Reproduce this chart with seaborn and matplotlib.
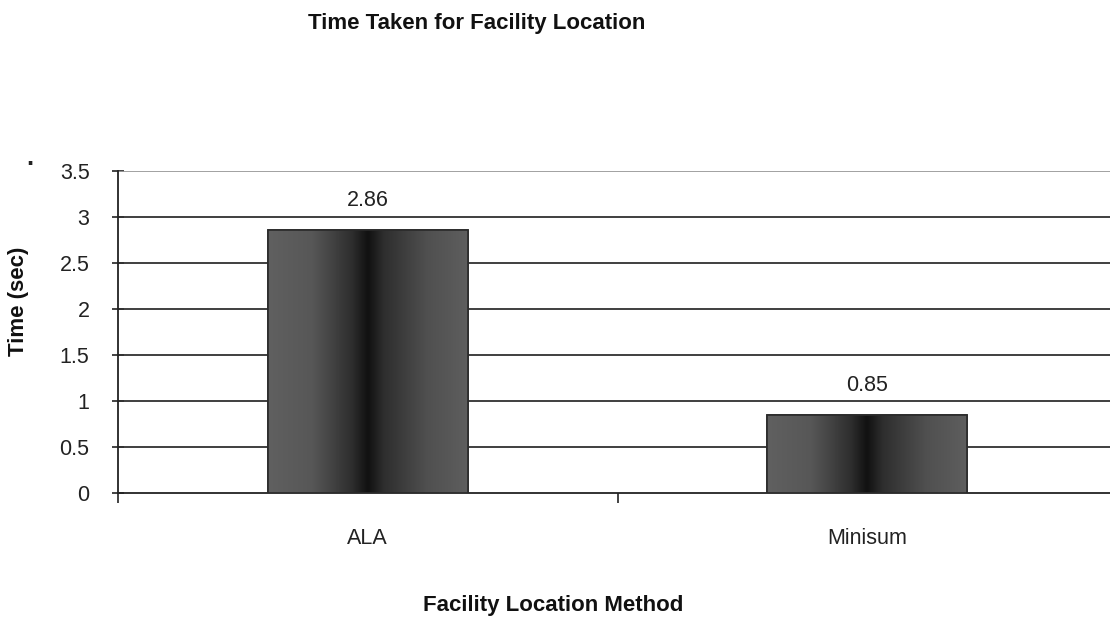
import numpy as np
import matplotlib
matplotlib.use("Agg")
import matplotlib.pyplot as plt
import seaborn as sns
import pandas as pd
from matplotlib.colors import LinearSegmentedColormap

methods = ["ALA", "Minisum"]
times = [2.86, 0.85]
value_labels = ["2.86", "0.85"]
y_ticks = [0, 0.5, 1, 1.5, 2, 2.5, 3, 3.5]
y_tick_labels = ["0", "0.5", "1", "1.5", "2", "2.5", "3", "3.5"]

sns.set_theme(style="white")
plt.rcParams["font.family"] = ["Liberation Sans", "DejaVu Sans"]

df = pd.DataFrame({"method": methods, "time": times})

fig = plt.figure(figsize=(11.1, 6.17), dpi=100)
ax = fig.add_axes([118 / 1110, 1 - 493 / 617, 999 / 1110, (493 - 171) / 617])

sns.barplot(data=df, x="method", y="time", color="#555555", width=0.4,
            edgecolor="#2a2a2a", linewidth=1.2, ax=ax, zorder=3)

ax.set_xlim(-0.5, 1.5)
ax.set_ylim(0, 3.5)

# horizontal grid lines
for yv in y_ticks[1:]:
    ax.axhline(yv, color="#9a9a9a" if yv == 3.5 else "#303030",
               lw=1.3, zorder=1)

# cylinder-style shading on each bar
shade = LinearSegmentedColormap.from_list(
    "cyl", [(0.0, "#606060"), (0.22, "#575757"), (0.42, "#2e2e2e"),
            (0.5, "#111111"), (0.58, "#2e2e2e"), (0.8, "#505050"),
            (1.0, "#5e5e5e")])
grad = np.linspace(0, 1, 256).reshape(1, -1)
for patch in ax.patches:
    x0, y0 = patch.get_x(), patch.get_y()
    w, h = patch.get_width(), patch.get_height()
    im = ax.imshow(grad, cmap=shade, aspect="auto",
                   extent=[x0, x0 + w, y0, y0 + h], zorder=3.5,
                   interpolation="bilinear")
    im.set_clip_path(patch)
    ax.add_patch(plt.Rectangle((x0, y0), w, h, fill=False,
                               edgecolor="#2a2a2a", lw=1.2, zorder=4))

# value labels above bars
for i, (v, lab) in enumerate(zip(times, value_labels)):
    ax.text(i, v + 0.32, lab, ha="center", va="center", fontsize=15.5,
            color="#222222")

# axes styling
for s in ["top", "right"]:
    ax.spines[s].set_visible(False)
for s in ["left", "bottom"]:
    ax.spines[s].set_color("#222222")
    ax.spines[s].set_linewidth(1.3)

ax.set_yticks(y_ticks)
ax.set_yticklabels(y_tick_labels, fontsize=15.5, color="#222222")
ax.tick_params(axis="y", which="major", left=True, length=9, width=1.2,
               color="#222222", direction="inout", pad=16)

# category boundaries carry the tick marks, centers carry the labels
ax.set_xticks([-0.5, 0.5, 1.5])
ax.set_xticklabels([])
ax.set_xticks([0, 1], minor=True)
ax.set_xticklabels(methods, minor=True, fontsize=15.5, color="#222222")
ax.tick_params(axis="x", which="major", bottom=True, length=7, width=1.2,
               color="#222222", direction="out")
ax.tick_params(axis="x", which="minor", bottom=False, length=0, pad=25)

ax.set_xlabel("Facility Location Method", fontsize=16, fontweight="bold",
              color="#111111")
ax.xaxis.set_label_coords((553 - 118) / 999, -(595 - 493) / 322)
ax.set_ylabel("Time (sec)", fontsize=16, fontweight="bold", color="#111111")
ax.yaxis.set_label_coords(-(118 - 29) / 999, (493 - 301) / 322)

fig.text(477 / 1110, 1 - 24 / 617, "Time Taken for Facility Location",
         ha="center", va="center", fontsize=16, fontweight="bold",
         color="#111111")
fig.text(30 / 1110, 1 - 158 / 617, ".", ha="center", va="center",
         fontsize=18, fontweight="bold", color="#222222")

fig.savefig("out.png", dpi=100)
